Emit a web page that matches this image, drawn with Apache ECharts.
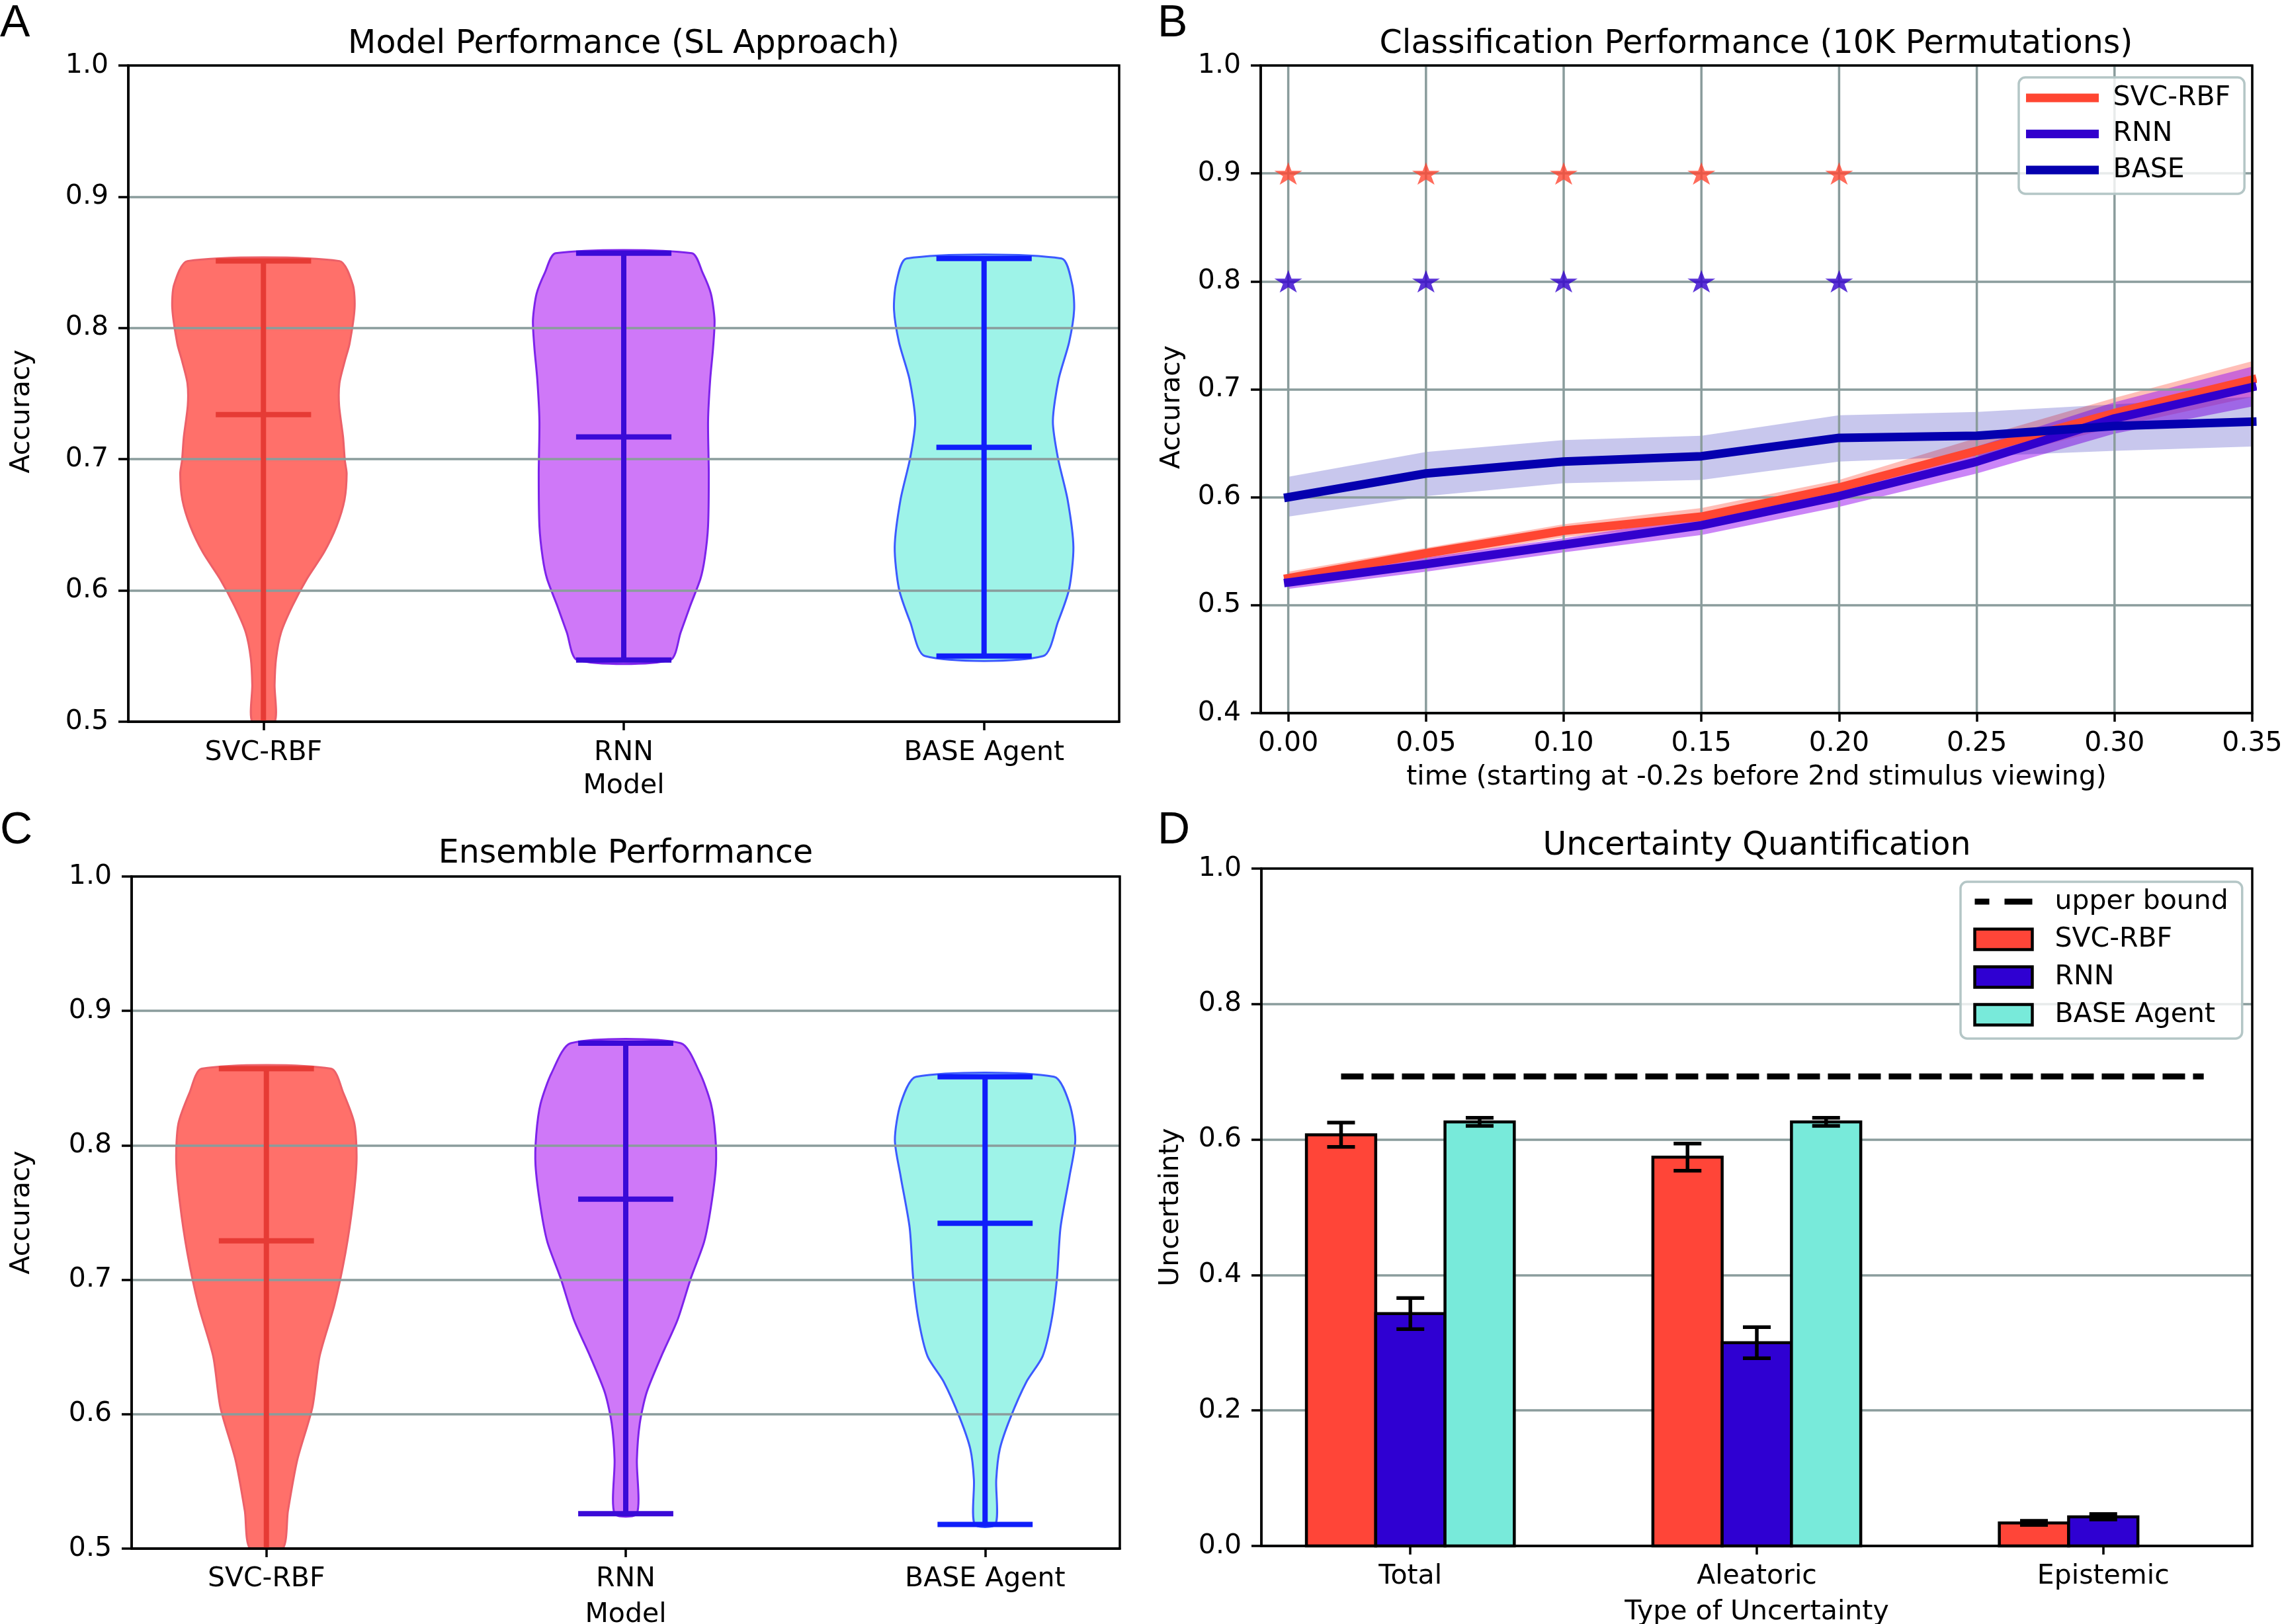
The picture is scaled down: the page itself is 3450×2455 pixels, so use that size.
<!DOCTYPE html>
<html><head><meta charset="utf-8">
<script src="https://cdn.jsdelivr.net/npm/echarts@6/dist/echarts.min.js"></script>
<style>html,body{margin:0;padding:0;background:#fff}#c{width:3450px;height:2455px}</style>
</head><body><div id="c"></div>
<script>
// ================= DATA =================
const modelNames = ['SVC-RBF', 'RNN', 'BASE Agent'];
const modelPos = [1, 2, 3];

// Panel A (SL approach) violin outlines: [accuracy, half-width]
const slOutlineSVC = [[0.851,0.211],[0.833,0.248],[0.815,0.253],[0.788,0.239],[0.775,0.226],[0.758,0.211],[0.741,0.210],[0.717,0.221],[0.699,0.226],[0.689,0.231],[0.669,0.225],[0.649,0.203],[0.629,0.168],[0.609,0.121],[0.588,0.080],[0.568,0.049],[0.548,0.035],[0.528,0.031],[0.500,0.031]];
const slOutlineRNN = [[0.857,0.189],[0.842,0.219],[0.826,0.242],[0.806,0.252],[0.785,0.248],[0.761,0.240],[0.729,0.234],[0.689,0.236],[0.649,0.234],[0.625,0.225],[0.609,0.213],[0.588,0.184],[0.568,0.158],[0.547,0.129]];
const slOutlineBASE = [[0.853,0.215],[0.834,0.244],[0.814,0.250],[0.789,0.236],[0.761,0.207],[0.729,0.191],[0.701,0.205],[0.669,0.232],[0.633,0.248],[0.601,0.236],[0.576,0.205],[0.550,0.164]];
const slMax = [0.851, 0.857, 0.853];
const slMean = [0.734, 0.717, 0.709];
const slMin = [0.47, 0.547, 0.550];

// Panel C (ensemble) violin outlines
const ensOutlineSVC = [[0.857,0.180],[0.839,0.214],[0.816,0.245],[0.789,0.251],[0.758,0.241],[0.720,0.220],[0.681,0.189],[0.643,0.148],[0.605,0.128],[0.566,0.086],[0.528,0.060],[0.500,0.045]];
const ensOutlineRNN = [[0.876,0.153],[0.854,0.206],[0.831,0.237],[0.808,0.249],[0.785,0.251],[0.754,0.237],[0.728,0.218],[0.701,0.181],[0.670,0.144],[0.643,0.099],[0.616,0.058],[0.593,0.039],[0.566,0.031],[0.526,0.031]];
const ensOutlineBASE = [[0.851,0.192],[0.831,0.235],[0.804,0.251],[0.777,0.235],[0.739,0.210],[0.701,0.200],[0.670,0.185],[0.643,0.160],[0.624,0.115],[0.597,0.070],[0.574,0.041],[0.551,0.031],[0.518,0.029]];
const ensMax = [0.857, 0.876, 0.851];
const ensMean = [0.729, 0.760, 0.742];
const ensMin = [0.47, 0.526, 0.518];

// Panel B (classification over time)
const times = [0, 0.05, 0.10, 0.15, 0.20, 0.25, 0.30, 0.35];
const svcAcc = [0.525, 0.548, 0.569, 0.582, 0.609, 0.643, 0.678, 0.709];
const svcHi  = [0.531, 0.553, 0.575, 0.590, 0.616, 0.655, 0.692, 0.726];
const svcLo  = [0.519, 0.542, 0.563, 0.575, 0.602, 0.632, 0.665, 0.693];
const rnnAcc = [0.521, 0.538, 0.556, 0.574, 0.601, 0.633, 0.673, 0.702];
const rnnHi  = [0.527, 0.544, 0.562, 0.582, 0.611, 0.647, 0.688, 0.721];
const rnnLo  = [0.515, 0.531, 0.549, 0.565, 0.591, 0.622, 0.659, 0.684];
const baseAcc = [0.600, 0.622, 0.633, 0.638, 0.655, 0.657, 0.666, 0.670];
const baseHi  = [0.619, 0.642, 0.653, 0.657, 0.676, 0.679, 0.686, 0.693];
const baseLo  = [0.582, 0.601, 0.613, 0.616, 0.633, 0.638, 0.643, 0.647];
const sigTimes = [0, 0.05, 0.10, 0.15, 0.20];
const sigSVC = [0.9, 0.9, 0.9, 0.9, 0.9];
const sigRNN = [0.8, 0.8, 0.8, 0.8, 0.8];

// Panel D (uncertainty)
const uncTypes = ['Total', 'Aleatoric', 'Epistemic'];
const uncSVC = [0.607, 0.574, 0.034];
const errSVC = [0.018, 0.020, 0.003];
const uncRNN = [0.343, 0.300, 0.043];
const errRNN = [0.023, 0.023, 0.004];
const uncBASE = [0.626, 0.626, 0];
const errBASE = [0.006, 0.006, 0];
const upperBound = 0.693;
const upperBoundSpan = [-0.2, 2.29];

// ================= STYLE =================
const FONT = 'DejaVu Sans';
const FS = 41, FT = 49;
const GRIDC = '#8a9c9c';
const violinFill = ['#ff706a', '#cf78f8', '#9ef3e8'];
const violinEdge = ['#ec6068', '#7d23eb', '#3c5aff'];
const violinLine = ['#e63b35', '#3a0ad7', '#0f1efa'];
const cSVC = '#ff4632', cRNN = '#3200cd', cBASE = '#0500af';
const dSVC = '#ff4538', dRNN = '#2f00d2', dBASE = '#78eada';
const STAR = 'path://M100,0 L77.55,69.1 L4.89,69.1 L63.67,111.8 L41.22,180.9 L100,138.2 L158.78,180.9 L136.33,111.8 L195.11,69.1 L122.45,69.1 Z';

const txt = (size) => ({fontFamily: FONT, fontSize: size, color: '#000', fontWeight: 'normal'});

function yAxisDef(gi, min, max, interval, name, nameGap, namePad) {
  return {type: 'value', gridIndex: gi, min, max, interval, z: 2,
    name, nameLocation: 'middle', nameGap, nameTextStyle: Object.assign(txt(FS), {padding: namePad || 0}),
    axisLine: {show: true, onZero: false, lineStyle: {color: '#000', width: 3.5}},
    axisTick: {show: true, length: 15, lineStyle: {color: '#000', width: 3.5}},
    axisLabel: Object.assign(txt(FS), {margin: 30, formatter: v => v.toFixed(1)}),
    splitLine: {show: true, lineStyle: {color: GRIDC, width: 3.5}}};
}
function xAxisDef(gi, min, max, ticks, fmt, name, nameGap, margin) {
  return {type: 'value', gridIndex: gi, min, max, z: 2,
    name, nameLocation: 'middle', nameGap, nameTextStyle: txt(FS),
    axisLine: {show: true, onZero: false, lineStyle: {color: '#000', width: 3.5}},
    axisTick: {show: true, length: 13, customValues: ticks, lineStyle: {color: '#000', width: 3.5}},
    axisLabel: Object.assign(txt(FS), {margin: margin, customValues: ticks, formatter: fmt}),
    splitLine: {show: false}};
}

function violinBody(gi, outlines) {
  return {type: 'custom', xAxisIndex: gi, yAxisIndex: gi, z: 1, silent: true, clip: true,
    data: outlines.map((o, i) => [modelPos[i], o[0][0]]),
    renderItem: (params, api) => {
      const i = params.dataIndex, pos = api.value(0), prof = outlines[i];
      const right = prof.map(p => api.coord([pos + p[1], p[0]]));
      const left = prof.slice().reverse().map(p => api.coord([pos - p[1], p[0]]));
      return {type: 'polygon', shape: {points: right.concat(left), smooth: 0.25},
        style: {fill: violinFill[i], stroke: violinEdge[i], lineWidth: 3}};
    }};
}
function violinStats(gi, maxs, means, mins, yMin) {
  return {type: 'custom', xAxisIndex: gi, yAxisIndex: gi, z: 3, silent: true, clip: true,
    data: means.map((m, i) => [modelPos[i], m]),
    renderItem: (params, api) => {
      const i = params.dataIndex, pos = api.value(0);
      const half = api.size([0.125, 0])[0];
      const st = () => ({stroke: violinLine[i], lineWidth: 8, lineCap: 'square'});
      const top = api.coord([pos, maxs[i]]);
      const bot = api.coord([pos, Math.max(mins[i], yMin)]);
      const hl = v => { const p = api.coord([pos, v]);
        return {type: 'line', shape: {x1: p[0] - half, y1: p[1], x2: p[0] + half, y2: p[1]}, style: st()}; };
      const kids = [{type: 'line', shape: {x1: top[0], y1: top[1], x2: bot[0], y2: bot[1]}, style: Object.assign(st(), {lineCap: 'butt'})},
        hl(maxs[i]), hl(means[i])];
      if (mins[i] >= yMin) kids.push(hl(mins[i]));
      return {type: 'group', children: kids};
    }};
}
function band(lo, hi, color) {
  return {type: 'custom', xAxisIndex: 1, yAxisIndex: 1, z: 1, silent: true,
    data: [[times[0], lo[0]]],
    renderItem: (params, api) => {
      const up = times.map((t, k) => api.coord([t, hi[k]]));
      const dn = times.map((t, k) => api.coord([t, lo[k]])).reverse();
      return {type: 'polygon', shape: {points: up.concat(dn)}, style: {fill: color}};
    }};
}
function accLine(name, acc, color) {
  return {type: 'line', name, xAxisIndex: 1, yAxisIndex: 1, z: 3, silent: true,
    symbol: 'none', data: times.map((t, k) => [t, acc[k]]),
    itemStyle: {color}, lineStyle: {color, width: 13, cap: 'square', join: 'round'}};
}
function stars(name, ys, color) {
  return {type: 'scatter', name, xAxisIndex: 1, yAxisIndex: 1, z: 4, silent: true,
    symbol: STAR, symbolSize: [42, 34], symbolKeepAspect: false,
    itemStyle: {color}, data: sigTimes.map((t, k) => [t, ys[k]])};
}
const barW = 0.2;
function uncBars(name, vals, errs, color, offset) {
  return {type: 'custom', name, xAxisIndex: 3, yAxisIndex: 3, z: 3, silent: true,
    itemStyle: {color},
    data: vals.map((v, i) => [i, v, errs[i]]),
    renderItem: (params, api) => {
      const i = api.value(0), v = api.value(1), e = api.value(2);
      if (!(v > 0)) return null;
      const x = i + offset;
      const p0 = api.coord([x - barW / 2, v]), p1 = api.coord([x + barW / 2, 0]);
      const c = api.coord([x, v]), eh = api.coord([x, v + e]), el = api.coord([x, v - e]);
      const bs = () => ({stroke: '#000', lineWidth: 5.5});
      return {type: 'group', children: [
        {type: 'rect', shape: {x: p0[0], y: p0[1], width: p1[0] - p0[0], height: p1[1] - p0[1]},
          style: {fill: color, stroke: '#000', lineWidth: 4.5}},
        {type: 'line', shape: {x1: c[0], y1: eh[1], x2: c[0], y2: el[1]}, style: bs()},
        {type: 'line', shape: {x1: c[0] - 21, y1: eh[1], x2: c[0] + 21, y2: eh[1]}, style: bs()},
        {type: 'line', shape: {x1: c[0] - 21, y1: el[1], x2: c[0] + 21, y2: el[1]}, style: bs()}
      ]};
    }};
}

const gridBase = {show: true, borderColor: '#000', borderWidth: 3.5, z: 5, backgroundColor: 'transparent', containLabel: false, outerBoundsMode: 'none'};
const letterStyle = {fontFamily: 'Liberation Sans', fontSize: 68, color: '#000', fontWeight: 'normal'};

const option = {
  animation: false,
  backgroundColor: '#fff',
  title: [
    {text: 'Model Performance (SL Approach)', left: 943, top: 43, textAlign: 'center', textVerticalAlign: 'top', padding: 0, textStyle: txt(FT)},
    {text: 'Classification Performance (10K Permutations)', left: 2655, top: 43, textAlign: 'center', textVerticalAlign: 'top', padding: 0, textStyle: txt(FT)},
    {text: 'Ensemble Performance', left: 946, top: 1267, textAlign: 'center', textVerticalAlign: 'top', padding: 0, textStyle: txt(FT)},
    {text: 'Uncertainty Quantification', left: 2656, top: 1255, textAlign: 'center', textVerticalAlign: 'top', padding: 0, textStyle: txt(FT)},
    {text: 'A', left: 0, top: 2, padding: 0, textStyle: letterStyle},
    {text: 'B', left: 1750, top: 2, padding: 0, textStyle: letterStyle},
    {text: 'C', left: 0, top: 1222, padding: 0, textStyle: letterStyle},
    {text: 'D', left: 1750, top: 1222, padding: 0, textStyle: letterStyle}
  ],
  grid: [
    Object.assign({left: 194, top: 99, width: 1498, height: 992}, gridBase),
    Object.assign({left: 1906, top: 99, width: 1499, height: 979}, gridBase),
    Object.assign({left: 199, top: 1325, width: 1494, height: 1016}, gridBase),
    Object.assign({left: 1907, top: 1313, width: 1498, height: 1024}, gridBase)
  ],
  xAxis: [
    xAxisDef(0, 0.625, 3.375, modelPos, v => modelNames[Math.round(v) - 1], 'Model', 77, 27),
    xAxisDef(1, -0.01, 0.35, times, v => v.toFixed(2), 'time (starting at -0.2s before 2nd stimulus viewing)', 77, 26),
    xAxisDef(2, 0.625, 3.375, modelPos, v => modelNames[Math.round(v) - 1], 'Model', 80, 26),
    xAxisDef(3, -0.43, 2.43, [0, 1, 2], v => uncTypes[Math.round(v)], 'Type of Uncertainty', 80, 26)
  ],
  yAxis: [
    yAxisDef(0, 0.5, 1.0, 0.1, 'Accuracy', 140, [0, 54, 0, 0]),
    yAxisDef(1, 0.4, 1.0, 0.1, 'Accuracy', 113, [0, 54, 0, 0]),
    yAxisDef(2, 0.5, 1.0, 0.1, 'Accuracy', 145),
    yAxisDef(3, 0, 1.0, 0.2, 'Uncertainty', 116)
  ],
  legend: [
    {orient: 'vertical', left: 3052, top: 117, z: 6, selectedMode: false,
      data: ['SVC-RBF', 'RNN', 'BASE'],
      itemWidth: 97, itemHeight: 13, itemGap: 10.5, padding: [9, 21, 14, 11],
      backgroundColor: 'rgba(255,255,255,0.8)', borderColor: '#b4c6c6', borderWidth: 3.5, borderRadius: 10,
      lineStyle: {width: 13},
      textStyle: Object.assign(txt(FS), {lineHeight: 44, padding: [0, 0, 0, 23]})},
    {orient: 'vertical', left: 2964, top: 1333, z: 6, selectedMode: false,
      data: [{name: 'upper bound', itemStyle: {opacity: 0}},
        {name: 'SVC-RBF|D', icon: 'rect'}, {name: 'RNN|D', icon: 'rect'}, {name: 'BASE Agent|D', icon: 'rect'}],
      formatter: n => n.split('|')[0],
      itemWidth: 87, itemHeight: 31, itemGap: 13, padding: [8, 21, 14, 17],
      backgroundColor: 'rgba(255,255,255,0.8)', borderColor: '#b4c6c6', borderWidth: 3.5, borderRadius: 10,
      itemStyle: {borderColor: '#000', borderWidth: 4.5},
      lineStyle: {width: 9, type: [22, 23, 42, 10]},
      textStyle: Object.assign(txt(FS), {lineHeight: 44, padding: [0, 0, 0, 29]})}
  ],
  series: [
    // Panel A
    violinBody(0, [slOutlineSVC, slOutlineRNN, slOutlineBASE]),
    violinStats(0, slMax, slMean, slMin, 0.5),
    // Panel C
    violinBody(2, [ensOutlineSVC, ensOutlineRNN, ensOutlineBASE]),
    violinStats(2, ensMax, ensMean, ensMin, 0.5),
    // Panel B
    band(svcLo, svcHi, 'rgba(255,70,50,0.35)'),
    band(rnnLo, rnnHi, 'rgba(160,32,240,0.55)'),
    band(baseLo, baseHi, 'rgba(5,0,175,0.22)'),
    {type: 'custom', xAxisIndex: 1, yAxisIndex: 1, z: 2, silent: true,
      data: times.map(t => [t, 0.4]),
      renderItem: (params, api) => {
        const a = api.coord([api.value(0), 0.4]), b = api.coord([api.value(0), 1.0]);
        return {type: 'line', shape: {x1: a[0], y1: a[1], x2: b[0], y2: b[1]}, style: {stroke: GRIDC, lineWidth: 3.5}};
      }},
    accLine('SVC-RBF', svcAcc, cSVC),
    accLine('RNN', rnnAcc, cRNN),
    accLine('BASE', baseAcc, cBASE),
    stars('sig SVC-RBF', sigSVC, cSVC),
    stars('sig RNN', sigRNN, cRNN),
    // Panel D
    {type: 'line', name: 'upper bound', xAxisIndex: 3, yAxisIndex: 3, z: 3, silent: true, symbol: 'none',
      data: upperBoundSpan.map(x => [x, upperBound]),
      itemStyle: {color: '#000'}, lineStyle: {color: '#000', width: 9, type: [34, 12]}},
    uncBars('SVC-RBF|D', uncSVC, errSVC, dSVC, -0.2),
    uncBars('RNN|D', uncRNN, errRNN, dRNN, 0),
    uncBars('BASE Agent|D', uncBASE, errBASE, dBASE, 0.2)
  ]
};

const chart = echarts.init(document.getElementById('c'), null, {renderer: 'canvas', width: 3450, height: 2455});
chart.setOption(option);
</script>
</body></html>
